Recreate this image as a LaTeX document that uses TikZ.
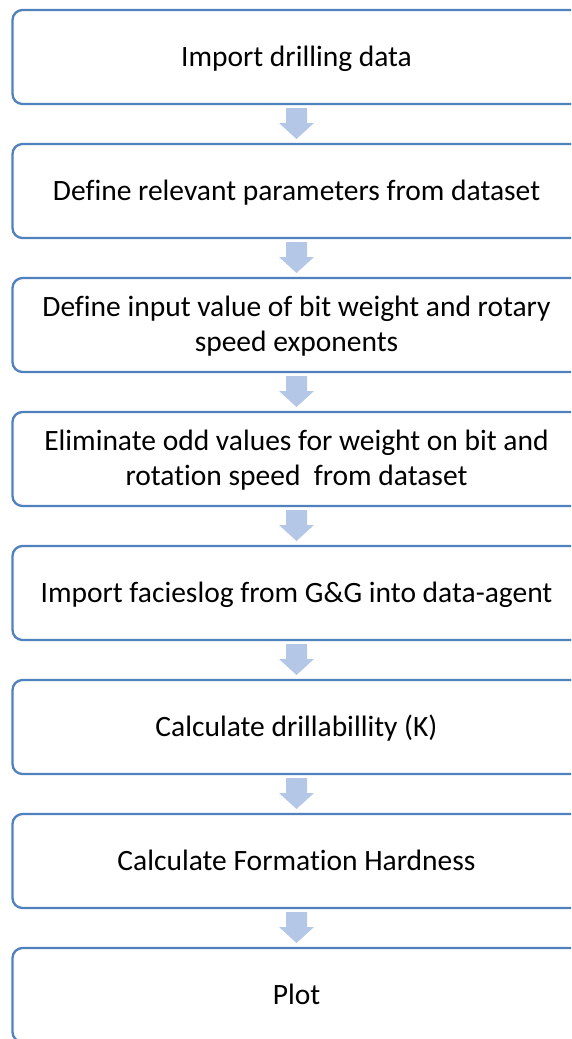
\documentclass[tikz,border=0pt]{standalone}
\usepackage{fontspec}
\setmainfont{Carlito}[Ligatures=NoCommon]
\usetikzlibrary{calc}

\definecolor{boxline}{RGB}{79,129,189}
\definecolor{arrowfill}{RGB}{180,199,231}

\tikzset{
  stepbox/.style={draw=boxline, line width=2.3pt, rounded corners=10pt,
    minimum width=568pt, minimum height=94pt, inner sep=0pt, outer sep=0pt},
  steptext/.style={font=\fontsize{29.5}{35}\selectfont, align=center, inner sep=0pt},
}

% block arrow between two consecutive steps
\newcommand{\blockarrow}[2]{%
  \path[fill=arrowfill] let \p1=(#1.south), \p2=(#2.north) in
    (\x1-10.5pt,\y1-4pt) -- (\x1+10.5pt,\y1-4pt) -- (\x1+10.5pt,\y1-19pt)
    -- (\x1+17.5pt,\y1-19pt) -- (\x1,\y2+5pt) -- (\x1-17.5pt,\y1-19pt)
    -- (\x1-10.5pt,\y1-19pt) -- cycle;}

\begin{document}
\begin{tikzpicture}[x=1pt,y=-1pt]
\useasboundingbox (0,0) rectangle (571,1039);
\clip (0,0) rectangle (571,1039);

% step boxes
\node[stepbox] (b1) at (296.5,57) {};
\node[stepbox] (b2) at (296.5,191) {};
\node[stepbox] (b3) at (296.5,325) {};
\node[stepbox] (b4) at (296.5,459) {};
\node[stepbox] (b5) at (296.5,593) {};
\node[stepbox] (b6) at (296.5,727) {};
\node[stepbox] (b7) at (296.5,861) {};
\node[stepbox] (b8) at (296.5,995) {};

% step labels
\node[steptext, anchor=base] (t1) at ($(b1.center)+(0,9.5)$) {Import drilling data};
\node[steptext, anchor=base] (t2) at ($(b2.center)+(0,9.5)$) {Define relevant parameters from dataset};
\node[steptext] (t3) at ($(b3.center)+(0,1.5)$) {Define input value of bit weight and rotary\\speed exponents};
\node[steptext] (t4) at ($(b4.center)+(0,1.5)$) {Eliminate odd values for weight on bit and\\rotation speed~ from dataset};
\node[steptext, anchor=base] (t5) at ($(b5.center)+(0,9.5)$) {Import facieslog from G\&G into data-agent};
\node[steptext, anchor=base] (t6) at ($(b6.center)+(0,9.5)$) {Calculate drillabillity (K)};
\node[steptext, anchor=base] (t7) at ($(b7.center)+(0,9.5)$) {Calculate Formation Hardness};
\node[steptext, anchor=base] (t8) at ($(b8.center)+(0,9.5)$) {Plot};

% arrows between steps
\blockarrow{b1}{b2}
\blockarrow{b2}{b3}
\blockarrow{b3}{b4}
\blockarrow{b4}{b5}
\blockarrow{b5}{b6}
\blockarrow{b6}{b7}
\blockarrow{b7}{b8}
\end{tikzpicture}
\end{document}
